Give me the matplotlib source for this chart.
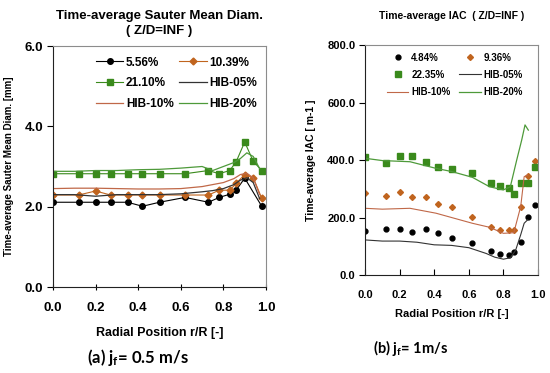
import matplotlib
matplotlib.use('Agg')
import matplotlib.pyplot as plt
from matplotlib.ticker import FormatStrFormatter

plt.rcParams['font.family'] = ['Liberation Sans', 'DejaVu Sans']
plt.rcParams['mathtext.fontset'] = 'custom'
plt.rcParams['mathtext.rm'] = 'Lato:bold'
plt.rcParams['mathtext.it'] = 'Lato:bold'
plt.rcParams['mathtext.bf'] = 'Lato:bold'

# ---- panel (a): Sauter mean diameter, jf = 0.5 m/s ----
r_a = [0.0, 0.12, 0.2, 0.27, 0.35, 0.42, 0.5, 0.62, 0.73, 0.78, 0.83, 0.86, 0.9, 0.98]
d_556 = [2.11, 2.11, 2.11, 2.11, 2.11, 2.01, 2.11, 2.23, 2.11, 2.23, 2.31, 2.41, 2.71, 2.01]
r_a2 = [0.0, 0.12, 0.2, 0.27, 0.35, 0.42, 0.5, 0.62, 0.73, 0.78, 0.83, 0.86, 0.9, 0.94, 0.98]
d_1039 = [2.29, 2.29, 2.39, 2.29, 2.29, 2.29, 2.29, 2.29, 2.29, 2.41, 2.41, 2.58, 2.8, 2.72, 2.21]
d_2110 = [2.82, 2.82, 2.82, 2.82, 2.82, 2.82, 2.82, 2.82, 2.9, 2.82, 2.9, 3.12, 3.61, 3.13, 2.9]

r_hib_a = [0.0, 0.1, 0.2, 0.3, 0.4, 0.5, 0.6, 0.7, 0.75, 0.8, 0.85, 0.88, 0.91, 0.94, 0.97]
hib05_a = [2.3, 2.3, 2.26, 2.3, 2.3, 2.3, 2.32, 2.37, 2.4, 2.45, 2.55, 2.66, 2.72, 2.6, 2.2]
hib10_a = [2.45, 2.46, 2.46, 2.45, 2.44, 2.44, 2.45, 2.5, 2.55, 2.6, 2.7, 2.8, 2.83, 2.72, 2.3]
hib20_a = [2.88, 2.88, 2.9, 2.9, 2.92, 2.93, 2.96, 3.0, 2.9, 3.0, 3.1, 3.2, 3.34, 3.25, 2.95]

# ---- panel (b): IAC, jf = 1 m/s ----
r_b = [0.0, 0.12, 0.2, 0.27, 0.35, 0.42, 0.5, 0.62, 0.73, 0.78, 0.83, 0.86, 0.9, 0.94, 0.98]
iac_484 = [154, 160, 160, 149, 160, 147, 130, 112, 83, 72, 70, 79, 114, 201, 242]
iac_936 = [286, 275, 290, 270, 272, 247, 235, 201, 168, 157, 157, 157, 238, 344, 398]
iac_2235 = [409, 389, 414, 414, 393, 375, 369, 354, 319, 310, 304, 282, 321, 319, 375]

r_hib_b = [0.0, 0.1, 0.2, 0.3, 0.4, 0.5, 0.6, 0.7, 0.75, 0.8, 0.84, 0.87, 0.9, 0.92, 0.94]
hib05_b = [122, 118, 118, 114, 105, 103, 95, 75, 62, 55, 60, 85, 140, 180, 192]
r_hib10_b = [0.0, 0.1, 0.26, 0.41, 0.5, 0.62, 0.72, 0.8, 0.86, 0.9, 0.92, 0.94]
hib10_b = [232, 229, 232, 215, 200, 180, 166, 145, 147, 238, 342, 348]
r_hib20_b = [0.0, 0.1, 0.26, 0.41, 0.5, 0.62, 0.72, 0.8, 0.84, 0.877, 0.906, 0.925, 0.944]
hib20_b = [406, 398, 394, 371, 360, 340, 307, 296, 307, 400, 470, 522, 504]

BLACK = '#000000'
ORANGE = '#c0641e'
GREEN = '#3a8a1c'
HIB05 = '#333333'
HIB10 = '#c06848'
HIB20 = '#4e9a3a'
SPINE = '#8c8c8c'

fig = plt.figure(figsize=(5.5, 3.73), dpi=100)

def style_axes(ax, fs, xdir, xpad):
    for s in ax.spines.values():
        s.set_color(SPINE)
        s.set_linewidth(0.8)
    ax.spines['left'].set_color('#222222')
    ax.spines['bottom'].set_color('#222222')
    ax.set_xlim(0, 1.0)
    ax.set_xticks([0, 0.2, 0.4, 0.6, 0.8, 1.0])
    ax.xaxis.set_major_formatter(FormatStrFormatter('%.1f'))
    ax.yaxis.set_major_formatter(FormatStrFormatter('%.1f'))
    ax.tick_params(axis='x', direction=xdir, length=4, width=0.8, labelsize=fs, pad=xpad)
    ax.tick_params(axis='y', direction='out', length=4, width=0.8, labelsize=fs, pad=3)
    for lab in ax.get_xticklabels() + ax.get_yticklabels():
        lab.set_fontweight('bold')

def row_legend(ax, **kw):
    # legend filled row by row (two columns)
    h, l = ax.get_legend_handles_labels()
    order = [0, 2, 4, 1, 3, 5]
    leg = ax.legend([h[i] for i in order], [l[i] for i in order], ncol=2,
                    frameon=False, **kw)
    for t in leg.get_texts():
        t.set_fontweight('bold')
    return leg

# panel (a)
ax1 = fig.add_axes([53 / 550, 86 / 373, 213 / 550, 241 / 373])
ax1.plot(r_a, d_556, '-o', color=BLACK, lw=0.8, ms=4, label='5.56%')
ax1.plot(r_a2, d_1039, '-D', color=ORANGE, lw=0.8, ms=3.5, label='10.39%')
ax1.plot(r_a2, d_2110, '-s', color=GREEN, lw=0.8, ms=4, label='21.10%')
ax1.plot(r_hib_a, hib05_a, '-', color=HIB05, lw=0.9, label='HIB-05%')
ax1.plot(r_hib_a, hib10_a, '-', color=HIB10, lw=0.9, label='HIB-10%')
ax1.plot(r_hib_a, hib20_a, '-', color=HIB20, lw=0.9, label='HIB-20%')
ax1.set_ylim(0, 6.0)
ax1.set_yticks([0, 2, 4, 6])
style_axes(ax1, 9.5, 'inout', 9)
ax1.set_xlabel('Radial Position r/R [-]', fontsize=9, fontweight='bold', labelpad=9)
ax1.set_ylabel('Time-average Sauter Mean Diam. [mm]', fontsize=7, fontweight='bold', labelpad=8)
ax1.set_title('Time-average Sauter Mean Diam.\n( Z/D=INF )', fontsize=9.5, fontweight='bold',
              pad=9, linespacing=1.3)
row_legend(ax1, loc='upper center', bbox_to_anchor=(0.58, 1.0), fontsize=8.5,
           handlelength=2.3, columnspacing=0.5, labelspacing=0.75, handletextpad=0.2)

# panel (b)
ax2 = fig.add_axes([365 / 550, 98 / 373, 173 / 550, 230 / 373])
ax2.plot(r_b, iac_484, 'o', color=BLACK, ms=3.5, label='4.84%')
ax2.plot(r_b, iac_936, 'D', color=ORANGE, ms=3, label='9.36%')
ax2.plot(r_b, iac_2235, 's', color=GREEN, ms=4, label='22.35%')
ax2.plot(r_hib_b, hib05_b, '-', color=HIB05, lw=0.8, label='HIB-05%')
ax2.plot(r_hib10_b, hib10_b, '-', color=HIB10, lw=0.8, label='HIB-10%')
ax2.plot(r_hib20_b, hib20_b, '-', color=HIB20, lw=0.9, label='HIB-20%')
ax2.set_ylim(0, 800)
ax2.set_yticks([0, 200, 400, 600, 800])
style_axes(ax2, 8, 'in', 11)
ax2.set_xlabel('Radial Position r/R [-]', fontsize=8, fontweight='bold', labelpad=6)
ax2.set_ylabel('Time-average IAC [ m-1 ]', fontsize=7.5, fontweight='bold', labelpad=8)
ax2.set_title('Time-average IAC  ( Z/D=INF )', fontsize=7.5, fontweight='bold', pad=19)
row_legend(ax2, loc='upper center', bbox_to_anchor=(0.52, 1.005), fontsize=7,
           handlelength=2.2, columnspacing=0.9, labelspacing=0.75, handletextpad=0.3)

# captions
fig.text(138 / 550, 1 - 358 / 373, r'(a) j$_f$= 0.5 m/s', ha='center', va='center',
         fontsize=12, fontweight='bold', family=['Lato', 'DejaVu Sans'])
fig.text(411 / 550, 1 - 348 / 373, r'(b) j$_f$= 1m/s', ha='center', va='center',
         fontsize=10.5, fontweight='bold', family=['Lato', 'DejaVu Sans'])

fig.savefig('out.png', dpi=100)
